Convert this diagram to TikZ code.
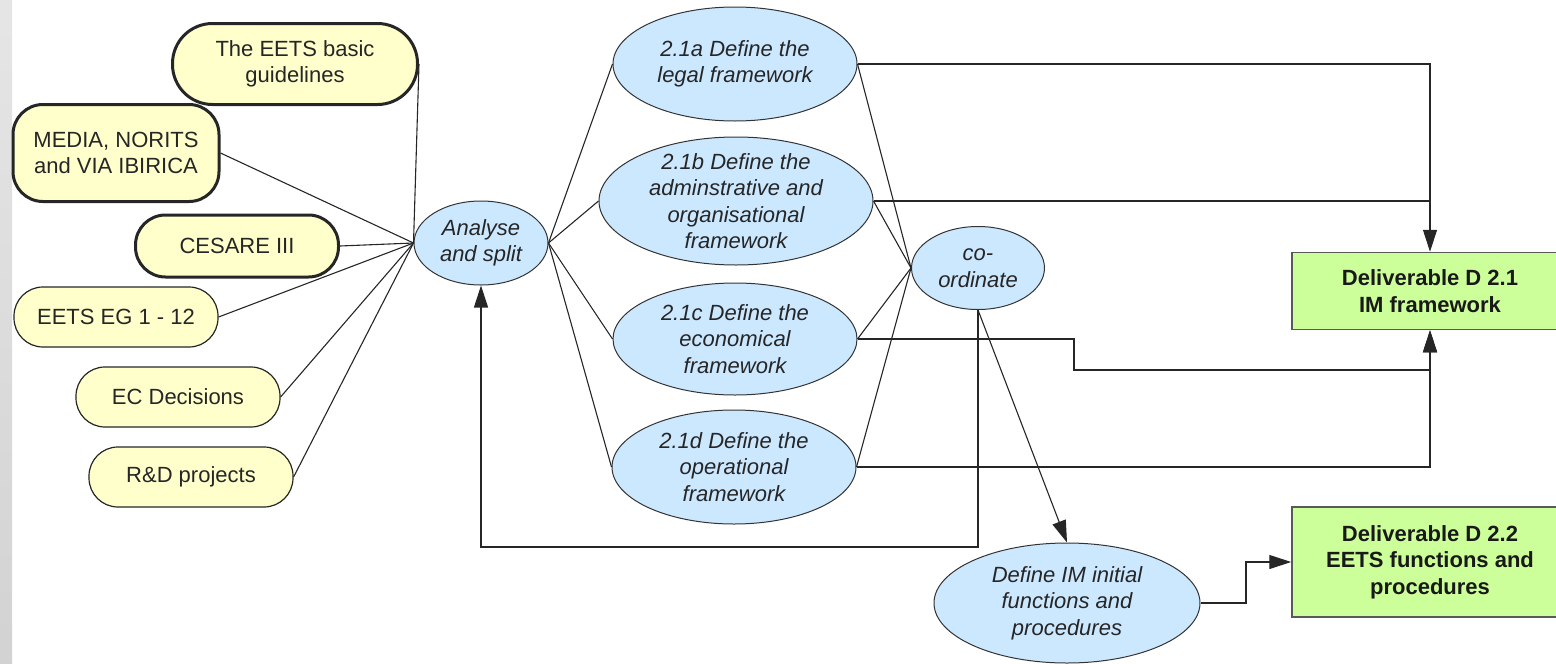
\documentclass[tikz,border=0pt]{standalone}
\usepackage{fontspec}
\setmainfont{Liberation Sans}
\usetikzlibrary{shapes.geometric,arrows.meta}
\definecolor{srcyellow}{HTML}{FFFFCC}
\definecolor{taskblue}{HTML}{CCE8FF}
\definecolor{delgreen}{HTML}{CCFF99}
\newcommand{\boxfont}{\fontsize{22}{26.5}\selectfont}
\begin{document}
\begin{tikzpicture}[x=1pt,y=-1pt]
	\tikzstyle{source}=[rectangle,rounded corners=29pt,draw=black!85,line width=1.2pt,fill=srcyellow,text=black!85,align=center,font=\boxfont,minimum width=204pt,minimum height=60pt,inner sep=0pt]
	\tikzstyle{keysource}=[source,line width=3pt,rounded corners=30pt]
	\tikzstyle{task}=[ellipse,draw=black!80,line width=1pt,fill=taskblue,text=black!85,align=center,font=\boxfont\itshape,inner sep=-15pt]
	\tikzstyle{deliverable}=[rectangle,draw=black!65,line width=1.5pt,fill=delgreen,text=black!90,align=center,font=\boxfont\bfseries,minimum width=276pt,inner sep=0pt]
	\tikzstyle{link}=[draw,line width=1.1pt,black!85]
	\tikzstyle{flow}=[link,-{Triangle[length=22pt,width=14pt]}]
	\useasboundingbox (0,0) rectangle (1556,664);
	\shade[top color=gray!20,bottom color=gray!35] (0,0) rectangle (12,664);
	\begin{scope}
		\node [keysource,rounded corners=40pt,minimum width=245pt,minimum height=81pt] (guide) at (295,64) {The EETS basic\\guidelines};
		\node [keysource,minimum width=206pt,minimum height=97pt] (media) at (116,153) {MEDIA, NORITS\\and VIA IBIRICA};
		\node [keysource,minimum width=203pt,minimum height=62pt] (cesare) at (237,246) {CESARE III};
		\node [source] (egroup) at (116,317) {EETS EG 1 - 12};
		\node [source] (ecdec) at (178,397) {EC Decisions};
		\node [source] (rdproj) at (191,477) {R\&D projects};
		\node [task,minimum width=134pt,minimum height=84pt] (split) at (481,243) {Analyse\\and split};
		\node [task,minimum width=244pt,minimum height=114pt] (legal) at (735,64) {2.1a Define the\\legal framework};
		\node [task,minimum width=274pt,minimum height=128pt] (admin) at (736,201) {2.1b Define the\\adminstrative and\\organisational\\framework};
		\node [task,minimum width=244pt,minimum height=112pt] (econ) at (735,339) {2.1c Define the\\economical\\framework};
		\node [task,minimum width=244pt,minimum height=114pt] (oper) at (734,467) {2.1d Define the\\operational\\framework};
		\node [task,minimum width=133pt,minimum height=83pt] (coord) at (978,268) {co-\\ordinate};
		\node [task,minimum width=266pt,minimum height=120pt] (imfun) at (1067,603) {Define IM initial\\functions and\\procedures};
		\node [deliverable,minimum height=77pt] (dtwoone) at (1430,291) {Deliverable D 2.1\\IM framework};
		\node [deliverable,minimum height=110pt] (dtwotwo) at (1430,562) {Deliverable D 2.2\\EETS functions and\\procedures};
		\coordinate (econjog) at (1074,370);
		\coordinate (backline) at (0,547);
		\coordinate (imjog) at (1246,0);
		\path[link] (guide.east) edge (split.west);
		\path[link] (media.east) edge (split.west);
		\path[link] (cesare.east) edge (split.west);
		\path[link] (egroup.east) edge (split.west);
		\path[link] (ecdec.east) edge (split.west);
		\path[link] (rdproj.east) edge (split.west);
		\path[link] (split.east) edge (legal.west);
		\path[link] (split.east) edge (admin.west);
		\path[link] (split.east) edge (econ.west);
		\path[link] (split.east) edge (oper.west);
		\path[link] (legal.east) edge (coord.west);
		\path[link] (admin.east) edge (coord.west);
		\path[link] (econ.east) edge (coord.west);
		\path[link] (oper.east) edge (coord.west);
		\draw[flow] (legal.east) -| (dtwoone.north);
		\draw[link] (admin.east) -- (admin.east -| dtwoone.north);
		\draw[flow] (econ.east) -| (econjog) -| (dtwoone.south);
		\draw[flow] (oper.east) -| (dtwoone.south);
		\draw[flow] (coord.south) |- (split.south |- backline) -- (split.south);
		\draw[flow] (coord.south) -- (imfun.north);
		\draw[flow] (imfun.east) -- (imfun.east -| imjog) |- (dtwotwo.west);
	\end{scope}
\end{tikzpicture}
\end{document}
